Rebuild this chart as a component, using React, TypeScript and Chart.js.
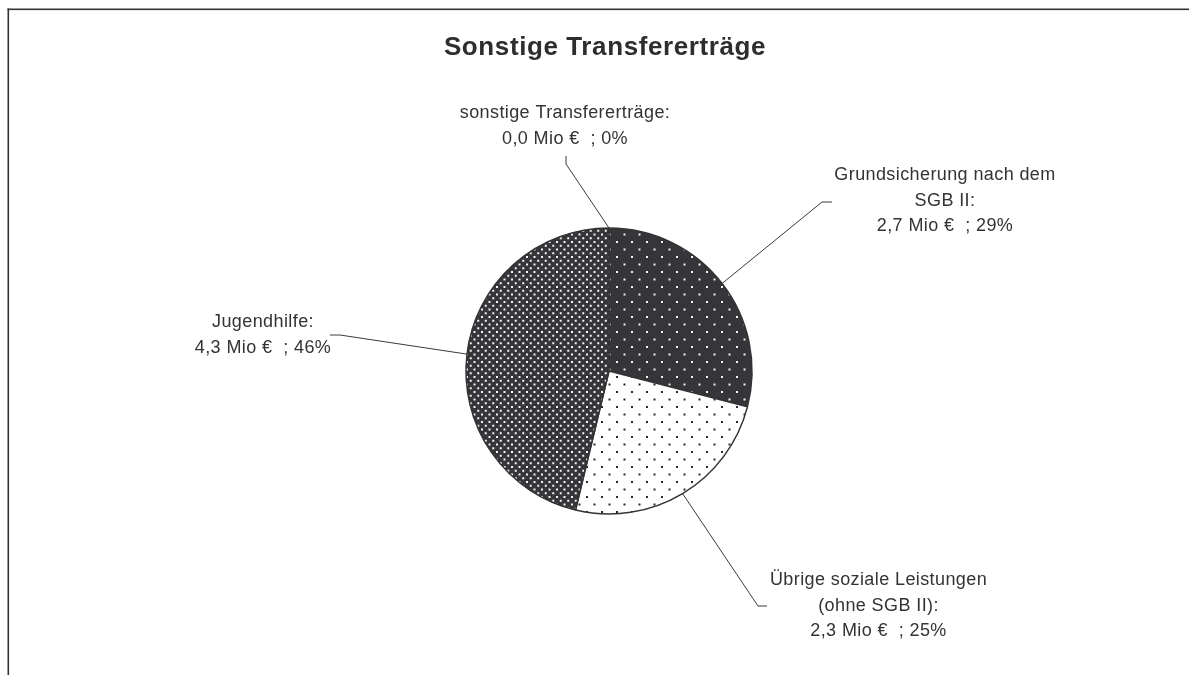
import React, { useEffect, useRef } from 'react';
import { Chart, registerables } from 'chart.js';

Chart.register(...registerables);

// ---- data ----
const chartTitle = 'Sonstige Transfererträge';
const categories = [
  'sonstige Transfererträge',
  'Grundsicherung nach dem SGB II',
  'Übrige soziale Leistungen (ohne SGB II)',
  'Jugendhilfe',
];
const labelLines = [
  ['sonstige Transfererträge:'],
  ['Grundsicherung nach dem', 'SGB II:'],
  ['Übrige soziale Leistungen', '(ohne SGB II):'],
  ['Jugendhilfe:'],
];
const valuesMio = [0.0, 2.7, 2.3, 4.3];

// ---- layout (offsets from pie centre, px) ----
const labelLayout = [
  { text: [-44, -258], bend: [-43, -207], end: [-43, -215] },
  { text: [336, -196], bend: [213, -169], end: [223, -169] },
  { text: [269.5, 209], bend: [149, 235], end: [158, 235] },
  { text: [-346, -49], bend: [-269, -36], end: [-279, -36] },
];

const DARK = '#36363a';
const TEXT = '#333333';
const FONT = '"Liberation Sans", Arial, sans-serif';

function makePattern(bg: string, dot: string, dense: boolean): CanvasPattern | string {
  const t = document.createElement('canvas');
  t.width = 15;
  t.height = 15;
  const c = t.getContext('2d');
  if (!c) return bg;
  c.fillStyle = bg;
  c.fillRect(0, 0, 15, 15);
  c.fillStyle = dot;
  const pts: number[][] = dense
    ? [[0, 0], [7.5, 0], [3.75, 3.75], [11.25, 3.75], [0, 7.5], [7.5, 7.5], [3.75, 11.25], [11.25, 11.25]]
    : [[0, 0], [7.5, 7.5]];
  pts.forEach(([x, y]) => {
    c.fillRect(x + 1, y + 1, 2, 2);
  });
  const p = c.createPattern(t, 'repeat');
  return p || bg;
}

const labelPlugin = {
  id: 'pieLabels',
  beforeDraw(chart: any) {
    const ctx = chart.ctx as CanvasRenderingContext2D;
    ctx.save();
    ctx.fillStyle = '#ffffff';
    ctx.fillRect(0, 0, chart.width, chart.height);
    // frame
    ctx.fillStyle = '#333333';
    ctx.fillRect(7.5, 8.5, chart.width, 1.6);
    ctx.fillRect(7.5, 8.5, 1.6, chart.height);
    // title
    ctx.fillStyle = '#2e2e2e';
    ctx.font = `bold 26px ${FONT}`;
    (ctx as any).letterSpacing = '0.6px';
    ctx.textAlign = 'center';
    ctx.textBaseline = 'middle';
    ctx.fillText(chartTitle, 605, 48);
    ctx.restore();
  },
  afterDatasetsDraw(chart: any) {
    const ctx = chart.ctx as CanvasRenderingContext2D;
    const meta = chart.getDatasetMeta(0);
    const total = valuesMio.reduce((a, b) => a + b, 0);
    ctx.save();
    meta.data.forEach((arc: any, i: number) => {
      const { x, y, startAngle, endAngle, outerRadius } = arc.getProps(
        ['x', 'y', 'startAngle', 'endAngle', 'outerRadius'],
        true
      );
      const mid = (startAngle + endAngle) / 2;
      const px = x + Math.cos(mid) * outerRadius;
      const py = y + Math.sin(mid) * outerRadius;
      const L = labelLayout[i];
      ctx.strokeStyle = '#3a3a3a';
      ctx.lineWidth = 1;
      ctx.beginPath();
      ctx.moveTo(px, py);
      ctx.lineTo(x + L.bend[0], y + L.bend[1]);
      ctx.lineTo(x + L.end[0], y + L.end[1]);
      ctx.stroke();

      const v = valuesMio[i];
      const pct = total ? Math.round((v / total) * 100) : 0;
      const lines = [
        ...labelLines[i],
        `${v.toFixed(1).replace('.', ',')} Mio €  ; ${pct}%`,
      ];
      ctx.fillStyle = TEXT;
      ctx.font = `18px ${FONT}`;
      (ctx as any).letterSpacing = '0.4px';
      ctx.textAlign = 'center';
      ctx.textBaseline = 'middle';
      lines.forEach((ln, k) => {
        ctx.fillText(ln, x + L.text[0], y + L.text[1] + k * 25.7);
      });
    });
    ctx.restore();
  },
};

export default function App() {
  const ref = useRef<HTMLCanvasElement | null>(null);
  useEffect(() => {
    if (!ref.current) return;
    const patterns = [
      DARK,
      makePattern(DARK, '#f4f4f4', false),
      makePattern('#ffffff', '#2a2a2a', false),
      makePattern(DARK, '#f4f4f4', true),
    ];
    const chart = new Chart(ref.current, {
      type: 'pie',
      data: {
        labels: categories,
        datasets: [
          {
            data: valuesMio,
            backgroundColor: patterns as any,
            borderColor: '#333333',
            borderWidth: 1.5,
            hoverOffset: 0,
            radius: 143,
          } as any,
        ],
      },
      options: {
        responsive: false,
        maintainAspectRatio: false,
        animation: false,
        events: [],
        layout: { padding: { left: 29, right: 0, top: 67, bottom: 0 } },
        plugins: {
          legend: { display: false },
          title: { display: false },
          tooltip: { enabled: false },
        },
      },
      plugins: [labelPlugin],
    });
    return () => chart.destroy();
  }, []);
  return (
    <div style={{ position: 'fixed', left: 0, top: 0, width: 1189, height: 675 }}>
      <canvas ref={ref} width={1189} height={675} style={{ display: 'block' }} />
    </div>
  );
}
